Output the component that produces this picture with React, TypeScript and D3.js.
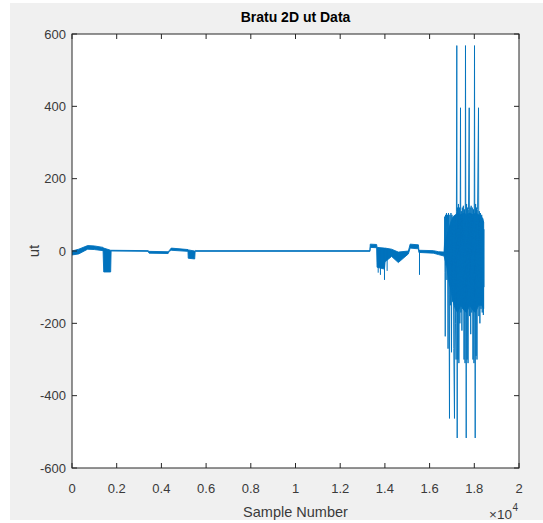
import React from "react";
import * as d3 from "d3";

// ---- Data ----
// Slowly varying part drawn as a thick band (high/low envelope of the trace)
const bandSamples = [0, 300, 700, 1000, 1390, 1420, 1730, 1750, 3400, 3450, 4300, 4350, 4440, 5190, 5200, 5490, 5510, 13330, 13345, 13630, 13650, 13980, 14010, 14300, 14600, 15050, 15130, 15500, 15520, 16170, 16400, 16650, 16670, 16760, 16850, 16950, 17050, 17150, 17250, 17400, 17550, 17650, 17800, 17950, 18050, 18200, 18330, 18420];
const bandHigh = [0, 5, 15, 14, 10, 8, 2, 2, 1, -1, -2, 1, 8, 4, 3, 0, 1, 1, 19, 18, 10, 8, 8, 5, -3, 0, 19, 17, 2, 1, -2, -3, 20, 40, 60, 80, 95, 100, 105, 100, 105, 100, 105, 100, 105, 100, 95, 80];
const bandLow = [-11, -8, 5, 4, 1, -58, -58, 0, -1, -6, -7, -1, 2, -1, -20, -22, -1, -1, 10, 9, -45, -50, -30, -15, -32, -8, 8, 6, -4, -6, -10, -14, -20, -40, -80, -110, -140, -160, -170, -150, -165, -170, -150, -165, -170, -150, -150, -160];

// Oscillating part near the end of the record
const denseSamples = [16660, 16675, 16690, 16700, 16715, 16735, 16755, 16775, 16800, 16825, 16845, 16870, 16890, 16905, 16930, 16955, 16980, 17000, 17030, 17055, 17080, 17114, 17135, 17160, 17185, 17200, 17217, 17235, 17250, 17270, 17290, 17310, 17335, 17355, 17383, 17400, 17420, 17445, 17465, 17490, 17510, 17540, 17565, 17585, 17606, 17638, 17655, 17680, 17700, 17720, 17740, 17772, 17790, 17815, 17840, 17860, 17885, 17910, 17940, 17965, 17985, 18009, 18040, 18058, 18080, 18100, 18120, 18145, 18188, 18205, 18225, 18250, 18275, 18300, 18330, 18355, 18380, 18405, 18425, 18435];
const denseValues = [-10, 95, -60, -236, 100, -40, 105, -80, 100, -270, 105, -120, -463, 100, -150, 105, -280, 100, -140, 90, -270, -463, 95, -200, -300, 110, 568, -517, 120, -300, 130, -310, 120, -200, 396, -170, 110, -220, 120, -160, 125, -300, 115, -310, 568, -517, 130, -300, 120, -310, 115, 396, -180, 120, -230, 125, -170, 120, -300, 115, -310, 568, -517, 130, -290, 120, -300, 115, 396, -180, 110, -200, 105, -160, 100, -170, 90, -177, 60, -100];

// Isolated short spikes
const spikeSamples = [13700, 13800, 13982, 14100, 15548];
const spikeTop = [10, 8, 5, 5, 2];
const spikeBottom = [-60, -66, -80, -55, -66];

const xTicks = [0, 2000, 4000, 6000, 8000, 10000, 12000, 14000, 16000, 18000, 20000];
const xTickLabels = ["0", "0.2", "0.4", "0.6", "0.8", "1", "1.2", "1.4", "1.6", "1.8", "2"];
const yTicks = [-600, -400, -200, 0, 200, 400, 600];

const W = 543;
const H = 523;
const L = 72, R = 519, T = 34, B = 468;
const BLUE = "#0072BD";
const AX = "#262626";
const TXT = "#3a3a3a";
const FONT = "'Liberation Sans', Arial, Helvetica, sans-serif";

export default function App() {
  const x = d3.scaleLinear().domain([0, 20000]).range([L, R]);
  const y = d3.scaleLinear().domain([-600, 600]).range([B, T]);

  const idxBand = bandSamples.map((_, i) => i);
  const area = d3
    .area<number>()
    .x((i) => x(bandSamples[i]))
    .y0((i) => y(bandLow[i]))
    .y1((i) => y(bandHigh[i]));
  const dense = d3
    .line<number>()
    .x((i) => x(denseSamples[i]))
    .y((i) => y(denseValues[i]));
  const idxDense = denseSamples.map((_, i) => i);

  const tickLen = 5;

  return (
    <svg width={W} height={H} style={{ position: "absolute", left: 0, top: 0 }} fontFamily={FONT}>
      <rect x={0} y={0} width={W} height={H} fill="#ffffff" />
      <rect x={10} y={3} width={W - 10} height={517} fill="#f0f0f0" />
      <defs>
        <clipPath id="plotclip">
          <rect x={L} y={T} width={R - L} height={B - T} />
        </clipPath>
      </defs>
      <rect x={L} y={T} width={R - L} height={B - T} fill="#ffffff" />

      <g clipPath="url(#plotclip)">
        <path d={area(idxBand) || ""} fill={BLUE} stroke={BLUE} strokeWidth={0.9} strokeLinejoin="round" />
        {spikeSamples.map((s, i) => (
          <line key={i} x1={x(s)} x2={x(s)} y1={y(spikeTop[i])} y2={y(spikeBottom[i])} stroke={BLUE} strokeWidth={1} />
        ))}
        <path d={dense(idxDense) || ""} fill="none" stroke={BLUE} strokeWidth={1} strokeLinejoin="miter" opacity={0.9} />
      </g>

      {/* axes box */}
      <rect x={L} y={T} width={R - L} height={B - T} fill="none" stroke={AX} strokeWidth={1} />
      {xTicks.map((t, i) => (
        <g key={"xt" + i}>
          <line x1={x(t)} x2={x(t)} y1={B} y2={B - tickLen} stroke={AX} strokeWidth={1} />
          <line x1={x(t)} x2={x(t)} y1={T} y2={T + tickLen} stroke={AX} strokeWidth={1} />
          <text x={x(t)} y={493} textAnchor="middle" fontSize={13} fill={TXT}>
            {xTickLabels[i]}
          </text>
        </g>
      ))}
      {yTicks.map((t, i) => (
        <g key={"yt" + i}>
          <line x1={L} x2={L + tickLen} y1={y(t)} y2={y(t)} stroke={AX} strokeWidth={1} />
          <line x1={R} x2={R - tickLen} y1={y(t)} y2={y(t)} stroke={AX} strokeWidth={1} />
          <text x={66} y={y(t) + 4.5} textAnchor="end" fontSize={13} fill={TXT}>
            {t}
          </text>
        </g>
      ))}

      <text x={(L + R) / 2} y={22} textAnchor="middle" fontSize={14} fontWeight="bold" fill="#000">
        Bratu 2D ut Data
      </text>
      <text x={(L + R) / 2} y={517} textAnchor="middle" fontSize={14.5} fill={TXT}>
        Sample Number
      </text>
      <text x={512} y={519} textAnchor="end" fontSize={13.5} fill={TXT}>
        ×10
      </text>
      <text x={512.5} y={511} textAnchor="start" fontSize={10} fill={TXT}>
        4
      </text>
      <text transform={`translate(39, ${y(0)}) rotate(-90)`} textAnchor="middle" fontSize={15} fill={TXT}>
        ut
      </text>
    </svg>
  );
}
